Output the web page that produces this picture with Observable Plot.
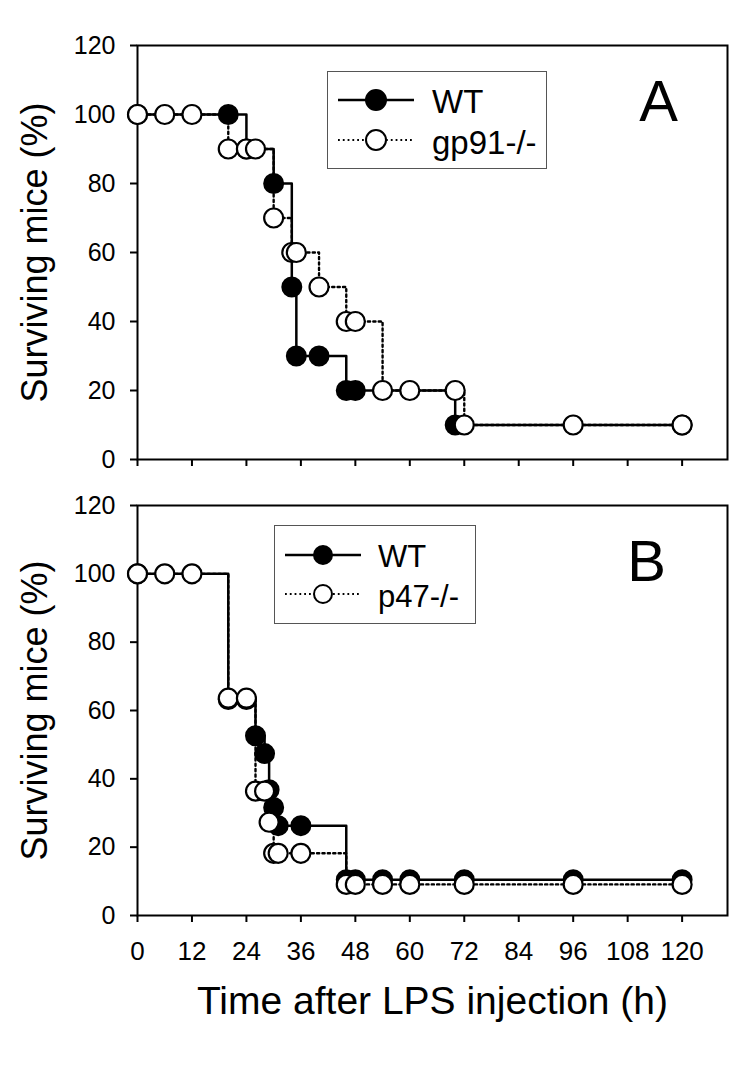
<!DOCTYPE html>
<html><head><meta charset="utf-8">
<script src="https://cdn.jsdelivr.net/npm/d3@7"></script>
<script src="https://cdn.jsdelivr.net/npm/@observablehq/plot@0.6"></script>
<style>
body{margin:0;background:#fff;font-family:"Liberation Sans",Arial,sans-serif;}
#wrap{position:relative;width:750px;height:1065px;background:#fff;}
#wrap svg{display:block;}
.legend{position:absolute;border:1.5px solid #555;background:#fff;box-sizing:border-box;}
.legend svg{position:absolute;left:0;top:0;}
</style></head><body><div id="wrap"></div>
<script>
// ---- tick values ----
const xTicks = [0, 12, 24, 36, 48, 60, 72, 84, 96, 108, 120];
const yTicks = [0, 20, 40, 60, 80, 100, 120];

// ---- Panel A: WT vs gp91-/- ----
const aWT_t = [0, 20, 24, 30, 34, 35, 40, 46, 48, 70, 120];
const aWT_v = [100, 100, 90, 80, 50, 30, 30, 20, 20, 10, 10];
const aKO_t = [0, 6, 12, 20, 24, 26, 30, 34, 35, 40, 46, 48, 54, 60, 70, 72, 96, 120];
const aKO_v = [100, 100, 100, 90, 90, 90, 70, 60, 60, 50, 40, 40, 20, 20, 20, 10, 10, 10];

// ---- Panel B: WT vs p47-/- ----
const bWT_t = [0, 20, 24, 26, 28, 29, 30, 31, 36, 46, 48, 54, 60, 72, 96, 120];
const bWT_v = [100, 63.2, 63.2, 52.6, 47.4, 36.8, 31.6, 26.3, 26.3, 10.5, 10.5, 10.5, 10.5, 10.5, 10.5, 10.5];
const bKO_t = [0, 6, 12, 20, 24, 26, 28, 29, 30, 31, 36, 46, 48, 54, 60, 72, 96, 120];
const bKO_v = [100, 100, 100, 63.6, 63.6, 36.4, 36.4, 27.3, 18.2, 18.2, 18.2, 9.1, 9.1, 9.1, 9.1, 9.1, 9.1, 9.1];

const yTitle = "Surviving mice (%)";
const xTitle = "Time after LPS injection (h)";
const panelLetters = ["A", "B"];
const wtName = "WT";
const koNames = ["gp91-/-", "p47-/-"];

const toRows = (ts, vs) => ts.map((t, i) => ({t, v: vs[i]}));

function panel({wt, ko, height, marginTop, marginBottom, showX, letter, letterDx, letterDy}) {
  return Plot.plot({
    width: 750, height,
    marginLeft: 137, marginRight: 23, marginTop, marginBottom,
    x: {domain: [0, 130]},
    y: {domain: [0, 120]},
    style: {fontFamily: "Liberation Sans, Arial, sans-serif", fontSize: "25px", color: "black", background: "white", overflow: "visible"},
    marks: [
      Plot.frame({stroke: "black", strokeWidth: 2}),
      Plot.axisY({ticks: yTicks, tickSize: 7, tickPadding: 15, strokeWidth: 2, fontSize: 25, label: null}),
      Plot.axisX({ticks: xTicks, tickSize: 7, tickPadding: 19, strokeWidth: 2, fontSize: 26, label: null,
                  tickFormat: showX ? (d => String(d)) : (() => "")}),
      Plot.line(ko, {x: "t", y: "v", curve: "step-after", stroke: "black", strokeWidth: 2.4, strokeDasharray: "2.2,3.2"}),
      Plot.line(wt, {x: "t", y: "v", curve: "step-after", stroke: "black", strokeWidth: 2.5}),
      Plot.dot(wt, {x: "t", y: "v", r: 9.5, fill: "black", stroke: "black", strokeWidth: 2}),
      Plot.dot(ko, {x: "t", y: "v", r: 9.5, fill: "white", stroke: "black", strokeWidth: 2.2}),
      Plot.text([letter], {frameAnchor: "top-right", dx: letterDx, dy: letterDy, fontSize: 58,
                           textAnchor: "middle", lineAnchor: "middle"}),
      Plot.text([yTitle], {frameAnchor: "left", dx: -102, rotate: -90, fontSize: 36,
                           textAnchor: "middle", lineAnchor: "middle"}),
      showX ? Plot.text([xTitle], {frameAnchor: "bottom", dy: 86, fontSize: 39,
                                   textAnchor: "middle", lineAnchor: "middle"}) : null
    ]
  });
}

const wrap = document.getElementById("wrap");
wrap.appendChild(panel({wt: toRows(aWT_t, aWT_v), ko: toRows(aKO_t, aKO_v), height: 480,
  marginTop: 45, marginBottom: 21, showX: false, letter: panelLetters[0], letterDx: -69, letterDy: 57}));
wrap.appendChild(panel({wt: toRows(bWT_t, bWT_v), ko: toRows(bKO_t, bKO_v), height: 585,
  marginTop: 25, marginBottom: 150, showX: true, letter: panelLetters[1], letterDx: -81, letterDy: 57}));

// ---- legends (overlaid boxes) ----
function legend({left, top, width, height, lineX0, lineX1, cx, textX, row1, row2, r, fontSize, koName}) {
  const div = document.createElement("div");
  div.className = "legend";
  Object.assign(div.style, {left: left + "px", top: top + "px", width: width + "px", height: height + "px"});
  const NS = "http://www.w3.org/2000/svg";
  const svg = document.createElementNS(NS, "svg");
  svg.setAttribute("width", width); svg.setAttribute("height", height);
  const el = (tag, attrs, text) => {
    const e = document.createElementNS(NS, tag);
    for (const k in attrs) e.setAttribute(k, attrs[k]);
    if (text) e.textContent = text;
    svg.appendChild(e);
  };
  el("line", {x1: lineX0, x2: lineX1, y1: row1, y2: row1, stroke: "black", "stroke-width": 2.5});
  el("circle", {cx, cy: row1, r, fill: "black", stroke: "black", "stroke-width": 2});
  el("line", {x1: lineX0, x2: lineX1, y1: row2, y2: row2, stroke: "black", "stroke-width": 1.8, "stroke-dasharray": "1.8,3"});
  el("circle", {cx, cy: row2, r, fill: "white", stroke: "black", "stroke-width": 2});
  const ts = {x: textX, "font-size": fontSize, "font-family": "Liberation Sans, Arial, sans-serif", "dominant-baseline": "central", fill: "black"};
  el("text", {...ts, y: row1 + 1}, wtName);
  el("text", {...ts, y: row2 + 2}, koName);
  div.appendChild(svg);
  wrap.appendChild(div);
}
legend({left: 327, top: 71, width: 220, height: 98, lineX0: 10, lineX1: 86, cx: 48, textX: 104,
        row1: 28, row2: 68, r: 10, fontSize: 33, koName: koNames[0]});
legend({left: 274, top: 525, width: 202, height: 99, lineX0: 10, lineX1: 86, cx: 48, textX: 103,
        row1: 29, row2: 68, r: 9, fontSize: 31, koName: koNames[1]});
</script></body></html>
